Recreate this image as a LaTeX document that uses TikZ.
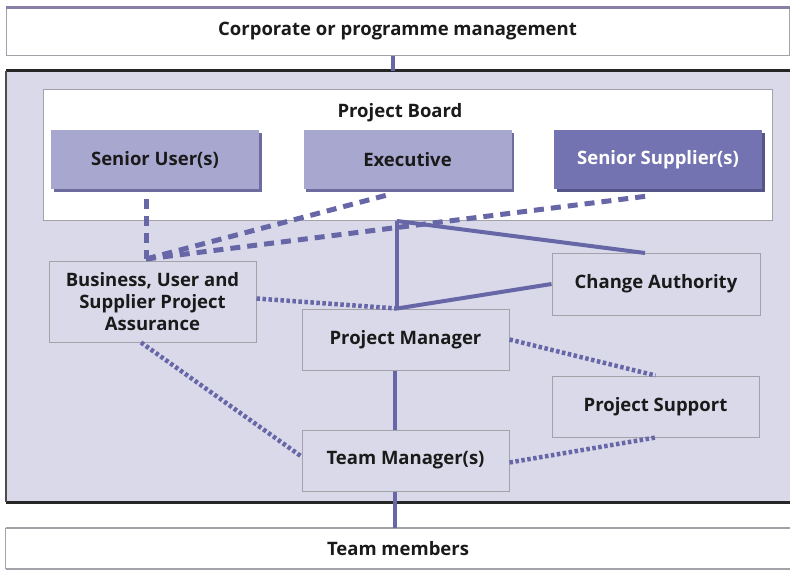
\documentclass[tikz,border=0pt]{standalone}
\usepackage{fontspec}
\setmainfont{Open Sans}
\usetikzlibrary{shadows}
\definecolor{frameBg}{HTML}{D9D9EA}
\definecolor{seniorFill}{HTML}{A7A7CF}
\definecolor{seniorShadow}{HTML}{6C6C9E}
\definecolor{supFill}{HTML}{7373B1}
\definecolor{supShadow}{HTML}{55558A}
\definecolor{lineCol}{HTML}{6767A8}
\definecolor{boxBorder}{HTML}{A2A2A8}
\definecolor{txt}{HTML}{1A1A1A}
\definecolor{topLine}{HTML}{8A7FA8}
\begin{document}
\begin{tikzpicture}[x=1pt,y=-1pt,
  every node/.style={font=\fontsize{18.5}{22}\selectfont\bfseries, text=txt, align=center, inner sep=0pt},
  plainbox/.style={draw=boxBorder, line width=1pt, fill=frameBg, minimum width=207pt, minimum height=61pt},
  seniorbox/.style={fill=seniorFill, minimum width=208pt, minimum height=59pt,
    general shadow={shadow xshift=2.5pt, shadow yshift=-3pt, fill=seniorShadow}},
  supbox/.style={fill=supFill, text=white, minimum width=208pt, minimum height=59pt,
    general shadow={shadow xshift=2.5pt, shadow yshift=-3pt, fill=supShadow}},
  solidline/.style={draw=lineCol, line width=4pt},
  dashline/.style={draw=lineCol, line width=5pt, dash pattern=on 10pt off 7pt},
  dotline/.style={draw=lineCol, line width=4.5pt, dash pattern=on 3.5pt off 2.5pt}
]
\useasboundingbox (0,0) rectangle (798,576);
\fill[white] (0,0) rectangle (798,576);

% top box
\node[draw=boxBorder, line width=1pt, fill=white, minimum width=783pt, minimum height=47pt] (top) at (397.5,31.5) {Corporate or programme management};
\draw[topLine, line width=2.5pt] (top.north west) -- (top.north east);

% frame
\node[fill=frameBg, minimum width=784pt, minimum height=431pt] (frame) at (398,286.5) {};
\draw[black!85, line width=3pt] (frame.north west) -- (frame.north east);
\draw[black!85, line width=3pt] (frame.south west) -- (frame.south east);
\draw[black!70, line width=1.8pt] (frame.north west) -- (frame.south west);

% team members
\node[fill=white, minimum width=784pt, minimum height=41pt] (tmem) at (398,548.5) {Team members};
\draw[boxBorder, line width=2pt] (tmem.north west) -- (tmem.north east);
\draw[boxBorder, line width=1.5pt] (tmem.south west) -- (tmem.south east);
\draw[boxBorder, line width=1pt] (tmem.north west) -- (tmem.south west);

% project board
\node[draw=boxBorder, line width=1pt, fill=white, minimum width=729pt, minimum height=131pt] (board) at (407.5,154.5) {};
\node (boardlbl) at (400,113) {Project Board};

\node[seniorbox] (su) at (155,159.5) {Senior User(s)};
\node[seniorbox] (ex) at (407.5,159.5) {Executive};
\node[supbox] (ss) at (658,159.5) {Senior Supplier(s)};

% other boxes
\node[plainbox, minimum height=81pt] (assur) at (152.5,301.5) {Business, User and\\Supplier Project\\Assurance};
\node[plainbox, minimum width=208pt, minimum height=62pt] (ca) at (656,284) {Change Authority};
\node[plainbox] (pm) at (405.5,339.5) {Project Manager};
\node[plainbox] (ps) at (655.5,406.5) {Project Support};
\node[plainbox] (tm) at (405.5,460.5) {Team Manager(s)};

% junction coordinates
\coordinate (j) at (397,221);
\coordinate (ua) at (146,259);
\coordinate (exb) at (391,194);
\coordinate (ssb) at (648,196);
\coordinate (cat) at (645,253);
\coordinate (tx) at (395,0);
\coordinate (topx) at (393,0);
\coordinate (suv) at (146,199);
\coordinate (ab) at (141,0);

% vertical trunk lines
\draw[solidline] (top.south -| topx) -- (frame.north -| topx);
\draw[solidline] (pm.south -| tx) -- (tm.north -| tx);
\draw[solidline] (tm.south -| tx) -- (tmem.north -| tx);

% dashed lines from board
\draw[dashline] (suv) -- (ua);
\draw[dashline] (ua) -- (exb);
\draw[dashline] (ua) -- (ssb);

% solid lines
\draw[solidline] (j) -- (pm.north -| j);
\draw[solidline] (j) -- (cat);
\draw[solidline] (pm.north -| j) -- (ca.west);

% dotted lines
\draw[dotline] ([yshift=3pt]assur.east) -- (pm.north -| j);
\draw[dotline] (assur.south -| ab) -- ([yshift=4pt]tm.west);
\draw[dotline] (pm.east) -- (ps.north);
\draw[dotline] ([yshift=-2pt]tm.east) -- (ps.south);
\end{tikzpicture}
\end{document}
